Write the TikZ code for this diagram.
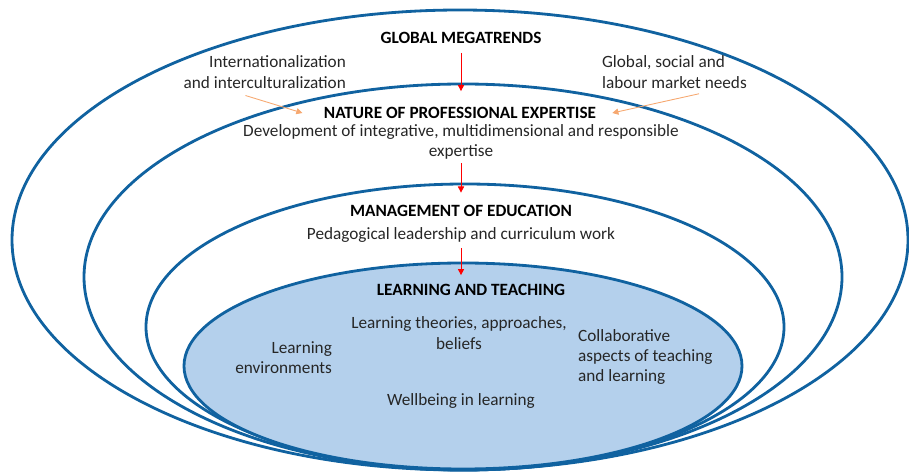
\documentclass[tikz,border=0pt]{standalone}
\usepackage{fontspec}
\setmainfont{Carlito}
\usetikzlibrary{arrows.meta}
\definecolor{ringblue}{RGB}{16,98,160}
\definecolor{corefill}{RGB}{180,208,236}
\definecolor{inkgray}{RGB}{38,38,38}
\definecolor{warmorange}{RGB}{246,168,112}

\tikzset{
  ring/.style={draw=ringblue, line width=1.6pt},
  txt/.style={font=\fontsize{9.8}{11.5}\selectfont, text=inkgray, inner sep=1pt, align=center},
  title/.style={txt, font=\fontsize{9.8}{11.5}\selectfont\bfseries, text=black},
  down/.style={draw=red, line width=0.5pt, -{Triangle[length=3.5pt,width=3.5pt]}},
  warm/.style={draw=warmorange, line width=0.5pt, -{Triangle[length=3.5pt,width=3.5pt]}}
}

\begin{document}
\begin{tikzpicture}[x=0.02cm, y=-0.02cm]
  \useasboundingbox (0,0) rectangle (909,472);
  % rings, outermost first
  \draw[ring] (460,240) ellipse [x radius=448, y radius=230];
  \draw[ring] (463,277) ellipse [x radius=379, y radius=193];
  \draw[ring] (465,327) ellipse [x radius=319, y radius=143];
  \draw[ring, fill=corefill] (463,366) ellipse [x radius=279, y radius=103];

  \node[title] (global) at (461,38) {GLOBAL MEGATRENDS};
  \node[txt, align=right, anchor=east] (intl) at (348,72) {Internationalization\\and interculturalization};
  \node[txt, align=left, anchor=west] (needs) at (600,72) {Global, social and\\labour market needs};
  \node[title] (expert) at (460,113) {NATURE OF PROFESSIONAL EXPERTISE};
  \node[txt] (develop) at (461,142) {Development of integrative, multidimensional and responsible\\expertise};
  \node[title] (manage) at (461,211) {MANAGEMENT OF EDUCATION};
  \node[txt] (pedag) at (461,235) {Pedagogical leadership and curriculum work};
  \node[title] (learn) at (471,290) {LEARNING AND TEACHING};
  \node[txt] (theory) at (459,333) {Learning theories, approaches,\\beliefs};
  \node[txt, align=right, anchor=east] (env) at (334,358) {Learning\\environments};
  \node[txt, align=left, anchor=west] (collab) at (576,357) {Collaborative\\aspects of teaching\\and learning};
  \node[txt] (well) at (461,401) {Wellbeing in learning};

  \draw[down, shorten <=4pt, shorten >=8pt] (global.south) -- (global.south |- expert.north);
  \draw[down, shorten <=1pt, shorten >=6pt] (develop.south -| global.south) -- (global.south |- manage.north);
  \draw[down, shorten <=2pt, shorten >=4pt] (pedag.south -| develop.south) -- (develop.south |- learn.north);
  \draw[warm] ([xshift=-11pt, yshift=-3pt]intl.south) -- ([xshift=-11pt]expert.west);
  \draw[warm] ([xshift=14pt, yshift=-2pt]needs.south) -- ([xshift=8pt]expert.east);
\end{tikzpicture}
\end{document}
